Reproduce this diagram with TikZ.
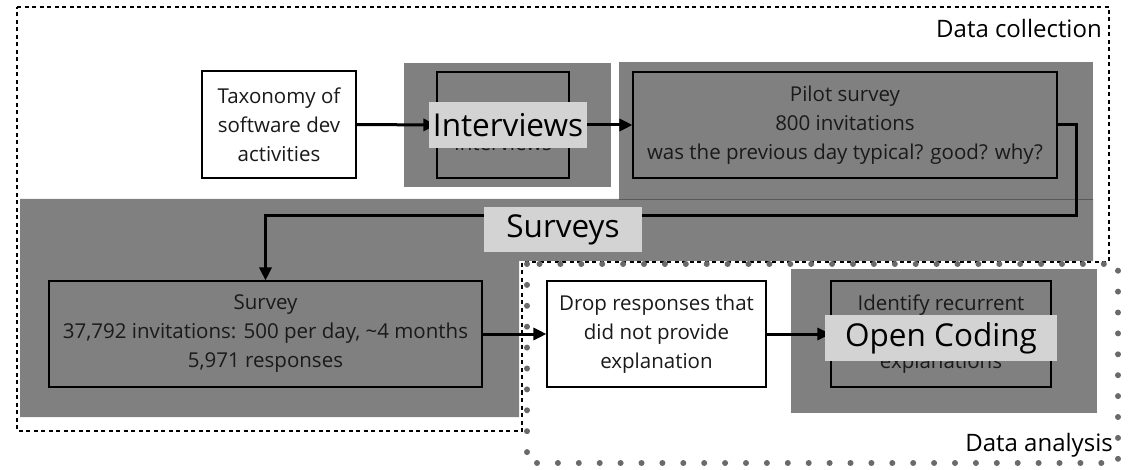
\documentclass[tikz,border=0pt]{standalone}
\usepackage{fontspec}
\setmainfont{Open Sans}
\usetikzlibrary{arrows.meta}
\definecolor{shadegray}{HTML}{808080}
\definecolor{taggray}{HTML}{D3D3D3}
\definecolor{dotgray}{HTML}{6A6A6A}
\definecolor{inkgray}{HTML}{1A1A1A}
\begin{document}
\begin{tikzpicture}[x=1pt,y=-1pt,
  txt/.style={font=\fontsize{20.5}{29}\selectfont, align=center, text=inkgray},
  stepbox/.style={draw=black, line width=1.1pt, inner sep=0pt, txt},
  plainbox/.style={stepbox, fill=white},
  tag/.style={fill=taggray, inner sep=0pt, text=black, font=\fontsize{31.5}{33}\selectfont},
  flow/.style={line width=3pt, -{Triangle[length=13pt,width=12pt]}},
  collect/.style={draw=black, line width=1.5pt, dash pattern=on 4pt off 3.5pt},
  analyse/.style={draw=dotgray, line width=6pt, line cap=round, dash pattern=on 0pt off 20.9pt},
  region/.style={font=\fontsize{24}{26}\selectfont, text=black, inner sep=0pt}
]
\useasboundingbox (0,0) rectangle (1129,470);

% shaded groups
\fill[shadegray] (20,199) -- (1093,199) -- (1093,261) -- (519,261) -- (519,417) -- (20,417) -- cycle;
\fill[shadegray] (404,63) rectangle (611,187);
\fill[shadegray] (619,62) rectangle (1093,199);
\draw[black!65, line width=0.8pt] (619,199) -- (1093,199);
\fill[shadegray] (791,269) rectangle (1097,413);

% cluster outlines
\draw[collect] (17,7) -- (1109,7) -- (1109,262) -- (522,262) -- (522,431) -- (17,431) -- cycle;
\draw[analyse] (527,264) rectangle (1118,463);
\node[region, anchor=base east] (dcoll) at (1102,38) {Data collection};
\node[region, anchor=base east] (dana) at (1113,451) {Data analysis};

% process steps
\node[plainbox, minimum width=154pt, minimum height=107pt] (tax) at (279,124.5) {Taxonomy of\\software dev\\activities};
\node[stepbox, minimum width=132pt, minimum height=106pt] (intbox) at (503,125) {};
\node[txt] (inttext) at (503,143) {Interviews};
\node[stepbox, minimum width=424pt, minimum height=106pt] (pilot) at (845,125) {Pilot survey\\800 invitations\\was the previous day typical? good? why?};
\node[stepbox, minimum width=433pt, minimum height=106pt] (survey) at (265.5,334) {Survey\\37,792 invitations: 500 per day, \textasciitilde4 months\\5,971 responses};
\node[plainbox, minimum width=219pt, minimum height=106pt] (drop) at (656.5,334) {Drop responses that\\did not provide\\explanation};
\node[stepbox, minimum width=220pt, minimum height=106pt] (ident) at (941,334) {Identify recurrent\\[29pt]explanations};

% connectors
\coordinate (turn) at (1076,216);
\draw[flow] (tax.east) -- (intbox.west);
\draw[flow] (intbox.east) -- (pilot.west);
\draw[flow] (pilot.east) -| (turn) -| (survey.north);
\draw[flow] (survey.east) -- (drop.west);
\draw[flow] (drop.east) -- (ident.west);

% phase tags
\node[tag, minimum width=158pt, minimum height=46pt] (inttag) at (508,125) {Interviews};
\node[tag, minimum width=158pt, minimum height=45pt] (srvtag) at (563,229.5) {Surveys};
\node[tag, minimum width=232pt, minimum height=46pt] (codetag) at (941,338) {Open Coding};
\end{tikzpicture}
\end{document}
